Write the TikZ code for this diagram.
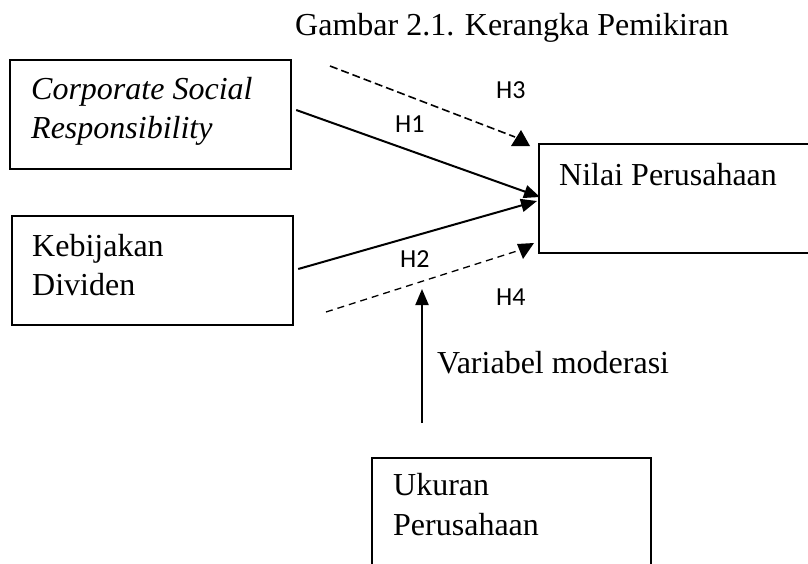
\documentclass[tikz,border=0pt]{standalone}
\usepackage{fontspec}
\setmainfont{Liberation Serif}
\newfontfamily\calfont{Carlito}
\usetikzlibrary{arrows.meta,calc}
\begin{document}
\begin{tikzpicture}[x=1pt,y=-1pt,
  box/.style={draw,line width=2.2pt,inner sep=0pt,anchor=north west},
  txt/.style={anchor=base west,inner sep=0pt,font=\fontsize{32}{39}\selectfont},
  hlab/.style={anchor=base west,inner sep=0pt,font=\calfont\fontsize{26}{30}\selectfont},
  solidarrow/.style={line width=2pt,-{Triangle[length=16pt,width=13pt]}},
  dashline/.style={line width=1.6pt,dash pattern=on 8pt off 4pt},
  dashthin/.style={line width=1.3pt,dash pattern=on 7pt off 5pt},
]
\useasboundingbox (0,0) rectangle (808,563);
\clip (0,0) rectangle (808,563);

% boxes
\node[box,minimum width=281pt,minimum height=109pt] (csr) at (9,59) {};
\node[box,minimum width=281pt,minimum height=109pt] (kd) at (11,215) {};
\node[box,minimum width=300pt,minimum height=109pt] (np) at (538,143) {};
\node[box,minimum width=279pt,minimum height=150pt] (up) at (371,457) {};

% texts
\node[txt] (title) at (295,35) {Gambar 2.1. Kerangka Pemikiran};
\node[txt] (csr1) at (31,99) {\itshape Corporate Social};
\node[txt] (csr2) at (31,138) {\itshape Responsibility};
\node[txt] (kd1) at (32,256) {Kebijakan};
\node[txt] (kd2) at (32,295) {Dividen};
\node[txt] (np1) at (559,185) {Nilai Perusahaan};
\node[txt] (vm) at (437,373) {Variabel moderasi};
\node[txt] (up1) at (393,495) {Ukuran};
\node[txt] (up2) at (393,535) {Perusahaan};

\node[hlab] (h3) at (496,98) {H3};
\node[hlab] (h1) at (395,132) {H1};
\node[hlab] (h2) at (400,267) {H2};
\node[hlab] (h4) at (496,305) {H4};

% solid arrows
\draw[solidarrow] ($(csr.north east)+(4,51)$) -- ($(np.north west)+(2,54)$);
\draw[solidarrow] ($(kd.north east)+(4,54)$) -- ($(np.north west)+(-1,58)$);

% dashed H3
\coordinate (h3s) at (330,66);
\coordinate (h3e) at (515,137);
\coordinate (t3a) at (521,130);
\coordinate (t3b) at (511,146);
\coordinate (t3c) at (530,146);
\draw[dashline] (h3s) -- (h3e);
\fill (t3a) -- (t3b) -- (t3c) -- cycle;

% dashed H4
\coordinate (h4s) at (326,312);
\coordinate (h4e) at (517,251);
\coordinate (t4a) at (517,244);
\coordinate (t4b) at (534,243);
\coordinate (t4c) at (523,259);
\draw[dashthin] (h4s) -- (h4e);
\fill (t4a) -- (t4b) -- (t4c) -- cycle;

% moderation arrow
\coordinate (vs) at (422,423);
\coordinate (ve) at (422,289);
\draw[solidarrow] (vs) -- (ve);
\end{tikzpicture}
\end{document}
